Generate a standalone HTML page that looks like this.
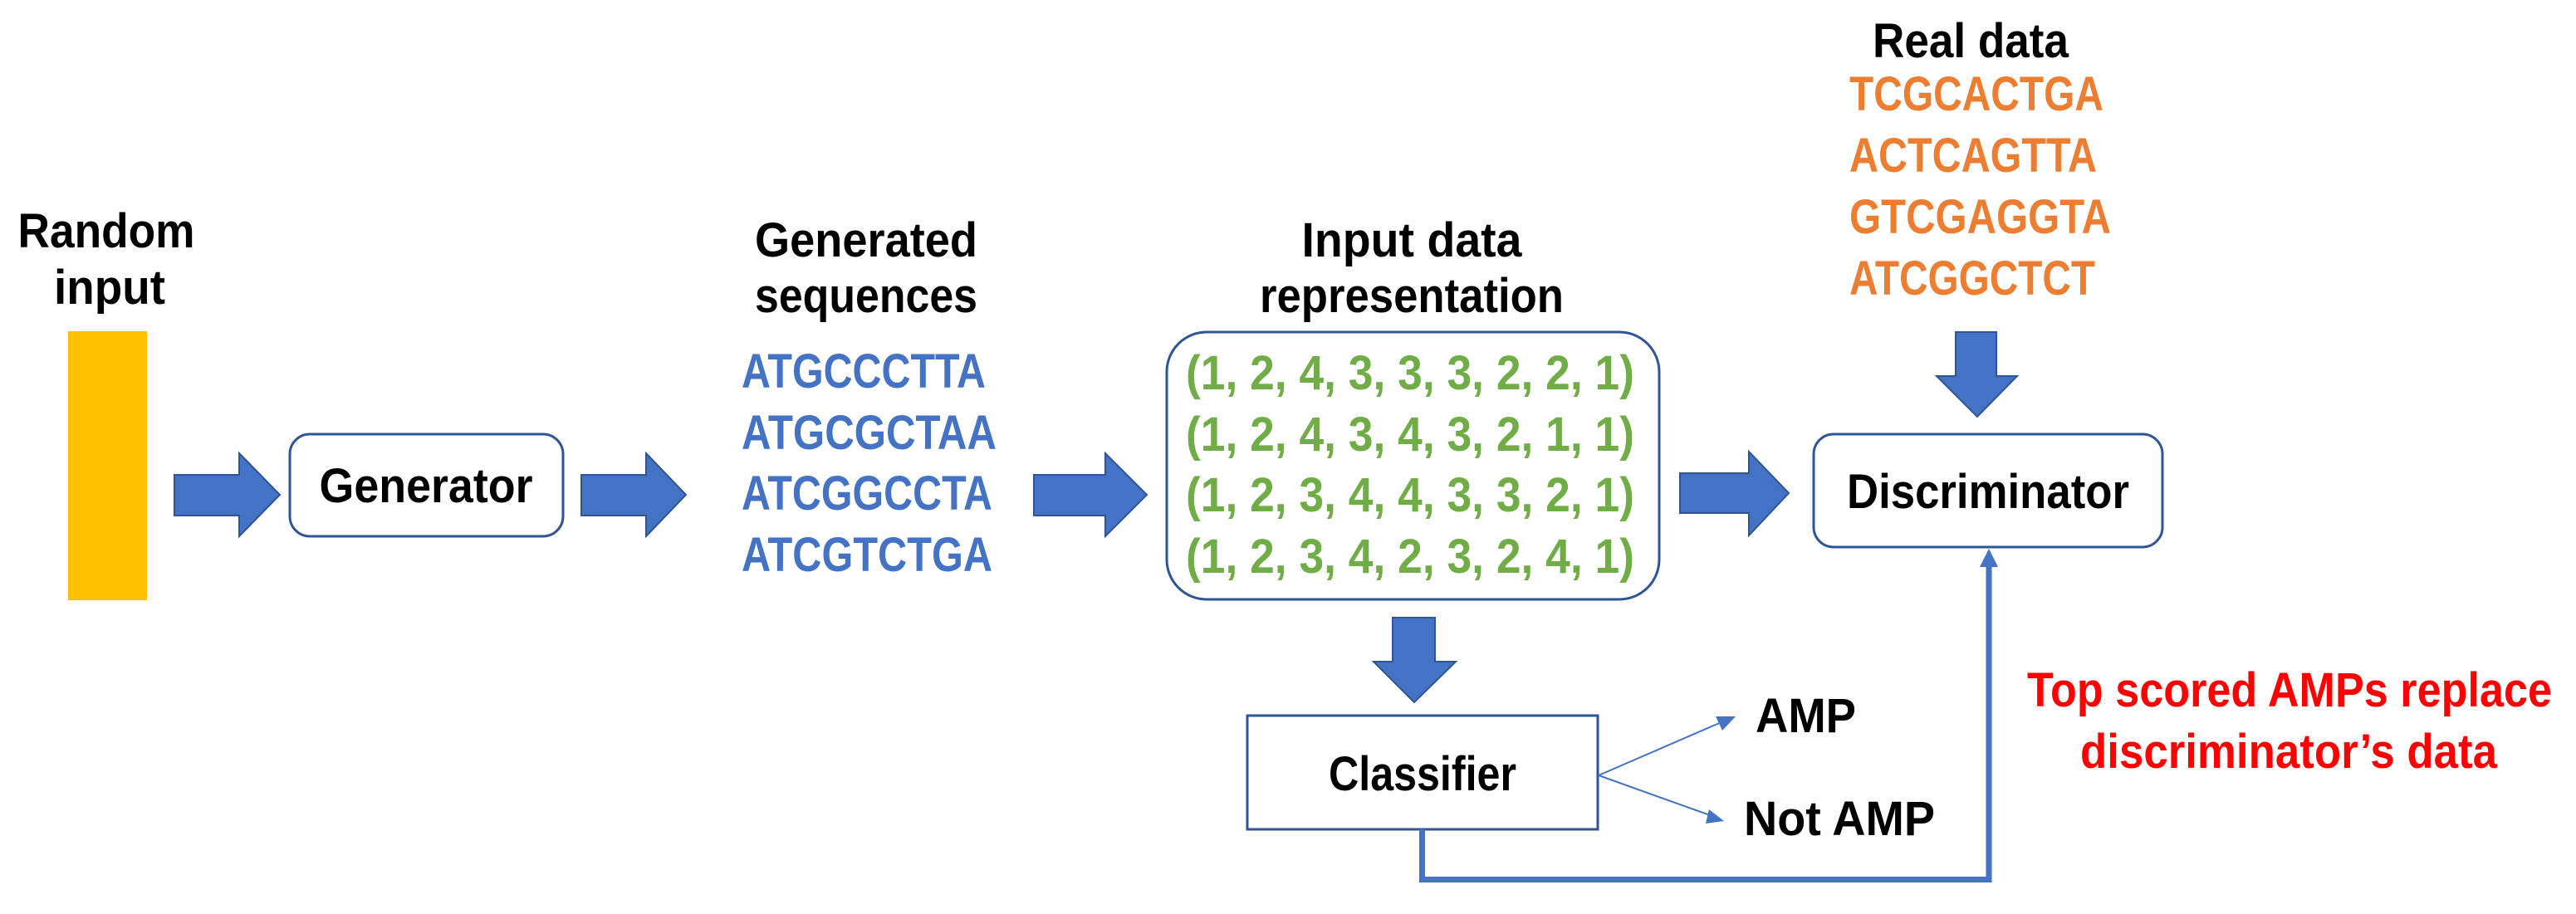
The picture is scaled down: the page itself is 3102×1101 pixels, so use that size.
<!DOCTYPE html>
<html><head><meta charset="utf-8"><style>
html,body{margin:0;padding:0;background:#fff;}
svg{display:block;}
text{font-family:"Liberation Sans",sans-serif;font-weight:bold;}
</style></head><body>
<svg width="3102" height="1101" viewBox="0 0 3102 1101" xmlns="http://www.w3.org/2000/svg">
<rect width="3102" height="1101" fill="#fff"/>
<text x="128" y="298" font-size="58" text-anchor="middle" textLength="213" lengthAdjust="spacingAndGlyphs">Random</text>
<text x="132" y="366" font-size="58" text-anchor="middle" textLength="134" lengthAdjust="spacingAndGlyphs">input</text>
<rect x="82" y="399" width="95" height="324" fill="#FFC000"/>
<g fill="#4472C4" stroke="#2F5597" stroke-width="2">
<polygon points="210,572 288,572 288,546 337,596 288,646 288,621 210,621"/>
<polygon points="700,572 778,572 778,546 826,596 778,646 778,621 700,621"/>
<polygon points="1245,572 1331,572 1331,546 1381,596 1331,646 1331,621 1245,621"/>
<polygon points="2023,570 2106,570 2106,544 2154,594 2106,645 2106,618 2023,618"/>
<polygon points="2355,400 2404,400 2404,453 2429,453 2381,502 2332,453 2355,453"/>
<polygon points="1677,744 1728,744 1728,797 1753,797 1703,846 1654,797 1677,797"/>
</g>
<rect x="349" y="523" width="329" height="123" rx="24" fill="#fff" stroke="#2F5597" stroke-width="3"/>
<text x="513" y="605" font-size="58" text-anchor="middle" textLength="257" lengthAdjust="spacingAndGlyphs">Generator</text>
<text x="1043" y="309" font-size="58" text-anchor="middle" textLength="268" lengthAdjust="spacingAndGlyphs">Generated</text>
<text x="1043" y="376" font-size="58" text-anchor="middle" textLength="268" lengthAdjust="spacingAndGlyphs">sequences</text>
<g fill="#4472C4" font-size="58">
<text x="893" y="467" textLength="294" lengthAdjust="spacingAndGlyphs">ATGCCCTTA</text>
<text x="893" y="541" textLength="307" lengthAdjust="spacingAndGlyphs">ATGCGCTAA</text>
<text x="893" y="614" textLength="302" lengthAdjust="spacingAndGlyphs">ATCGGCCTA</text>
<text x="893" y="688" textLength="302" lengthAdjust="spacingAndGlyphs">ATCGTCTGA</text>
</g>
<text x="1700" y="309" font-size="58" text-anchor="middle" textLength="265" lengthAdjust="spacingAndGlyphs">Input data</text>
<text x="1700" y="376" font-size="58" text-anchor="middle" textLength="366" lengthAdjust="spacingAndGlyphs">representation</text>
<rect x="1405" y="400" width="593" height="322" rx="48" fill="#fff" stroke="#2F5597" stroke-width="3"/>
<g fill="#70AD47" font-size="58">
<text x="1428" y="469" textLength="540" lengthAdjust="spacingAndGlyphs">(1, 2, 4, 3, 3, 3, 2, 2, 1)</text>
<text x="1428" y="543" textLength="540" lengthAdjust="spacingAndGlyphs">(1, 2, 4, 3, 4, 3, 2, 1, 1)</text>
<text x="1428" y="616" textLength="540" lengthAdjust="spacingAndGlyphs">(1, 2, 3, 4, 4, 3, 3, 2, 1)</text>
<text x="1428" y="690" textLength="540" lengthAdjust="spacingAndGlyphs">(1, 2, 3, 4, 2, 3, 2, 4, 1)</text>
</g>
<text x="2373" y="69" font-size="58" text-anchor="middle" textLength="236" lengthAdjust="spacingAndGlyphs">Real data</text>
<g fill="#ED7D31" font-size="58">
<text x="2227" y="133" textLength="306" lengthAdjust="spacingAndGlyphs">TCGCACTGA</text>
<text x="2227" y="207" textLength="298" lengthAdjust="spacingAndGlyphs">ACTCAGTTA</text>
<text x="2227" y="281" textLength="315" lengthAdjust="spacingAndGlyphs">GTCGAGGTA</text>
<text x="2227" y="355" textLength="296" lengthAdjust="spacingAndGlyphs">ATCGGCTCT</text>
</g>
<rect x="2184" y="523" width="420" height="136" rx="24" fill="#fff" stroke="#2F5597" stroke-width="3"/>
<text x="2394" y="612" font-size="58" text-anchor="middle" textLength="340" lengthAdjust="spacingAndGlyphs">Discriminator</text>
<rect x="1502" y="862" width="422" height="137" fill="#fff" stroke="#2F5597" stroke-width="3"/>
<text x="1713" y="952" font-size="58" text-anchor="middle" textLength="226" lengthAdjust="spacingAndGlyphs">Classifier</text>
<g stroke="#4472C4" stroke-width="2">
<line x1="1925" y1="934" x2="2075" y2="869"/>
<line x1="1925" y1="934" x2="2062" y2="983"/>
</g>
<polygon points="2090,863 2066,863 2074,880" fill="#4472C4"/>
<polygon points="2076,989 2058,975 2054,992" fill="#4472C4"/>
<text x="2114" y="882" font-size="58" textLength="121" lengthAdjust="spacingAndGlyphs">AMP</text>
<text x="2100" y="1006" font-size="58" textLength="230" lengthAdjust="spacingAndGlyphs">Not AMP</text>
<polyline points="1712.5,999 1712.5,1059.5 2395,1059.5 2395,680" fill="none" stroke="#4472C4" stroke-width="7"/>
<polygon points="2395,661 2384,683 2406,683" fill="#4472C4"/>
<g fill="#FF0000" font-size="58" text-anchor="middle">
<text x="2757" y="851" textLength="632" lengthAdjust="spacingAndGlyphs">Top scored AMPs replace</text>
<text x="2756" y="925" textLength="502" lengthAdjust="spacingAndGlyphs">discriminator’s data</text>
</g>
</svg>
</body></html>
